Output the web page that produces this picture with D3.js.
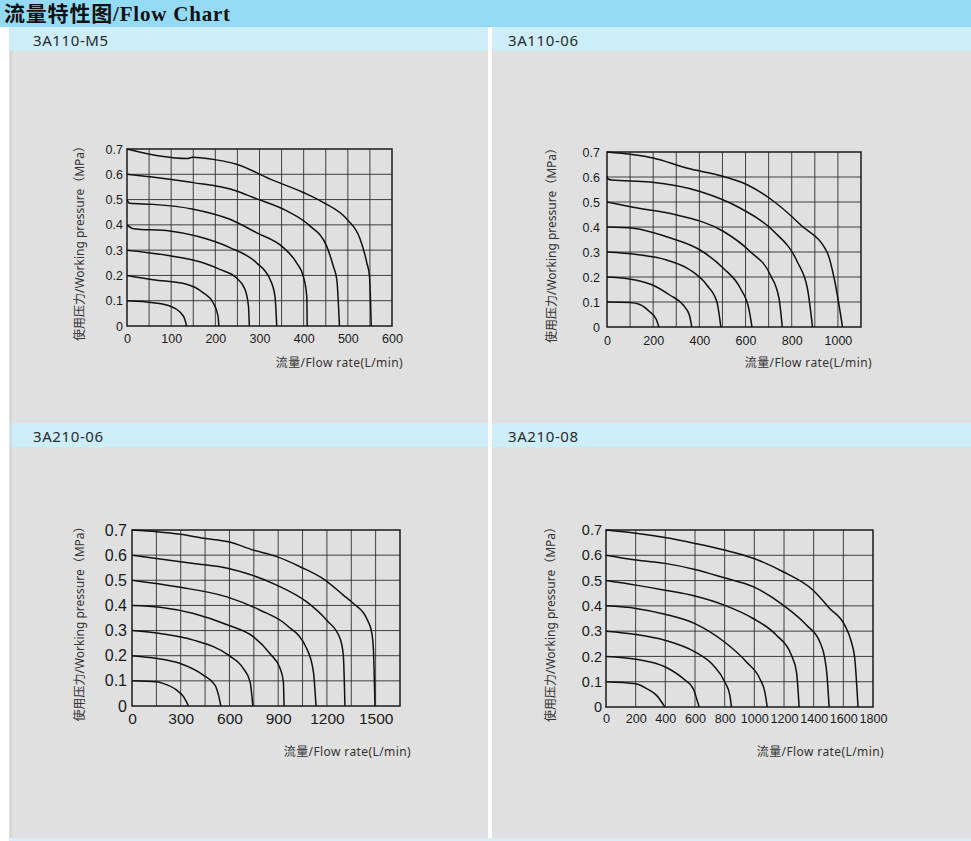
<!DOCTYPE html>
<html>
<head>
<meta charset="utf-8">
<script src="https://cdn.jsdelivr.net/npm/d3@7"></script>
<style>
  body { margin: 0; background: #fff; }
  svg { display: block; }
</style>
</head>
<body>
<svg id="chart" width="971" height="841"></svg>
<script>
// model names for the four panels
const modelNames = ["3A110-M5", "3A110-06", "3A210-06", "3A210-08"];

// pressure axis (MPa), same for all charts
const pressureTicks = [0, 0.1, 0.2, 0.3, 0.4, 0.5, 0.6, 0.7];

// flow axis per chart: max of the grid, grid step, labelled ticks
const flowMax = [600, 1100, 1650, 1800];
const flowStep = [50, 100, 150, 200];
const flowTicksM5 = [0, 100, 200, 300, 400, 500, 600];
const flowTicks06 = [0, 200, 400, 600, 800, 1000];
const flowTicks210_06 = [0, 300, 600, 900, 1200, 1500];
const flowTicks210_08 = [0, 200, 400, 600, 800, 1000, 1200, 1400, 1600, 1800];

// curves: [flow, pressure]
const curvesM5 = [
  [[0,0.1],[60,0.092],[97,0.079],[120,0.055],[131,0.026],[135,0]],
  [[0,0.2],[59,0.183],[135,0.165],[172,0.132],[195,0.092],[206,0.04],[208,0]],
  [[0,0.3],[97,0.278],[172,0.25],[210,0.224],[248,0.19],[267,0.145],[275,0.078],[277,0]],
  [[0,0.4],[14,0.385],[97,0.376],[157,0.356],[233,0.31],[293,0.25],[324,0.184],[335,0.118],[339,0]],
  [[0,0.5],[6,0.485],[59,0.481],[150,0.462],[233,0.422],[293,0.369],[354,0.31],[384,0.25],[399,0.197],[407,0.118],[408,0]],
  [[0,0.6],[97,0.58],[150,0.567],[248,0.534],[286,0.508],[362,0.455],[414,0.396],[452,0.316],[467,0.237],[475,0.184],[481,0]],
  [[0,0.7],[74,0.672],[136,0.662],[148,0.667],[202,0.657],[248,0.64],[324,0.581],[399,0.528],[445,0.488],[498,0.422],[528,0.343],[543,0.25],[549,0.197],[553,0]]
];
const curves06 = [
  [[0,0.1],[99,0.098],[142,0.09],[186,0.06],[212,0.033],[225,0]],
  [[0,0.2],[128,0.187],[200,0.167],[273,0.127],[331,0.087],[357,0.047],[367,0]],
  [[0,0.3],[128,0.29],[258,0.268],[360,0.228],[433,0.167],[476,0.1],[493,0]],
  [[0,0.4],[113,0.395],[258,0.361],[403,0.308],[505,0.234],[578,0.154],[614,0.074],[628,0]],
  [[0,0.5],[113,0.479],[302,0.448],[505,0.382],[621,0.301],[708,0.207],[745,0.114],[759,0]],
  [[0,0.603],[5,0.592],[19,0.588],[186,0.58],[403,0.542],[578,0.475],[723,0.382],[824,0.261],[868,0.154],[890,0]],
  [[0,0.7],[200,0.676],[345,0.636],[505,0.602],[607,0.569],[723,0.502],[839,0.408],[955,0.295],[984,0.194],[1020,0]]
];
const curves210_06 = [
  [[0,0.1],[148,0.096],[195,0.089],[277,0.062],[318,0.036],[348,0]],
  [[0,0.2],[154,0.189],[297,0.169],[441,0.122],[512,0.082],[533,0.042],[547,0]],
  [[0,0.3],[174,0.288],[379,0.262],[594,0.202],[686,0.149],[727,0.096],[744,0]],
  [[0,0.4],[174,0.393],[379,0.368],[594,0.321],[748,0.275],[850,0.208],[912,0.149],[932,0.096],[936,0]],
  [[0,0.5],[277,0.474],[584,0.434],[789,0.381],[953,0.321],[1076,0.228],[1117,0.135],[1133,0]],
  [[0,0.6],[379,0.567],[594,0.547],[707,0.527],[891,0.481],[1076,0.414],[1199,0.341],[1281,0.268],[1301,0.202],[1311,0]],
  [[0,0.7],[154,0.693],[297,0.683],[441,0.667],[594,0.653],[748,0.62],[891,0.594],[1035,0.554],[1189,0.501],[1301,0.441],[1363,0.408],[1445,0.348],[1475,0.295],[1486,0.228],[1496,0]]
];
const curves210_08 = [
  [[0,0.1],[202,0.092],[274,0.073],[341,0.046],[397,0]],
  [[0,0.2],[202,0.189],[397,0.159],[521,0.112],[588,0.073],[611,0.033],[628,0]],
  [[0,0.3],[202,0.287],[397,0.264],[599,0.218],[723,0.165],[801,0.099],[835,0.046],[846,0]],
  [[0,0.4],[202,0.39],[397,0.367],[599,0.33],[797,0.258],[947,0.178],[1037,0.112],[1071,0.059],[1087,0]],
  [[0,0.5],[202,0.482],[397,0.462],[599,0.439],[797,0.403],[992,0.35],[1149,0.284],[1250,0.205],[1284,0.139],[1302,0]],
  [[0,0.6],[202,0.581],[397,0.568],[599,0.544],[797,0.511],[992,0.476],[1194,0.403],[1351,0.324],[1441,0.258],[1475,0.192],[1490,0.125],[1504,0]],
  [[0,0.7],[202,0.687],[397,0.67],[599,0.647],[797,0.621],[992,0.588],[1194,0.535],[1396,0.462],[1508,0.39],[1609,0.324],[1654,0.258],[1677,0.192],[1699,0]]
];

const flowTicks = [flowTicksM5, flowTicks06, flowTicks210_06, flowTicks210_08];
const curves = [curvesM5, curves06, curves210_06, curves210_08];

// page layout: panel boxes and plot areas
const layout = [
  { px: 9,   py: 27,  tx: 33,  plot: { l: 127, r: 392, t: 149, b: 326 }, yfs: 12.5, xfs: 12.5, yGap: 4, xBase: 343, yTitleX: 80,  xTitleBase: 367 },
  { px: 492, py: 27,  tx: 508, plot: { l: 607, r: 861, t: 152, b: 327 }, yfs: 12.5, xfs: 12.5, yGap: 7, xBase: 345, yTitleX: 552, xTitleBase: 367 },
  { px: 9,   py: 423, tx: 33,  plot: { l: 132, r: 400, t: 530, b: 706 }, yfs: 16,   xfs: 15.5, yGap: 5, xBase: 724, yTitleX: 80,  xTitleBase: 756 },
  { px: 492, py: 423, tx: 508, plot: { l: 606, r: 873, t: 530, b: 707 }, yfs: 14.5, xfs: 12.6, yGap: 4, xBase: 723, yTitleX: 551, xTitleBase: 756 }
];

const svg = d3.select('#chart');
const tickFont = '"Liberation Sans", Arial, sans-serif';
const labelFont = '"Noto Sans", "Noto Sans CJK SC", sans-serif';

// grey panels and light blue name bands
layout.forEach((L, i) => {
  const bottom = i < 2 ? 423 : 838;
  svg.append('rect')
    .attr('x', L.px).attr('y', L.py)
    .attr('width', 479).attr('height', bottom - L.py)
    .attr('fill', '#e0e0e0');
  svg.append('rect')
    .attr('x', L.px).attr('y', L.py)
    .attr('width', 479).attr('height', 24)
    .attr('fill', '#cdedf9');
  svg.append('text')
    .attr('x', L.tx).attr('y', L.py + 19)
    .attr('font-family', labelFont)
    .attr('font-size', 15)
    .attr('letter-spacing', 0.6)
    .attr('fill', '#2a2a2a')
    .text(modelNames[i]);
});

// faint left edge and bottom strip
svg.append('rect').attr('x', 10).attr('y', 50).attr('width', 1.5).attr('height', 788).attr('fill', '#d2d2d2');
svg.append('rect').attr('x', 9).attr('y', 838).attr('width', 962).attr('height', 3).attr('fill', '#d6eef7');

// title bar
svg.append('rect')
  .attr('x', 0).attr('y', 0)
  .attr('width', 971).attr('height', 27)
  .attr('fill', '#93dbf4');
svg.append('text')
  .attr('x', 4).attr('y', 21)
  .attr('font-family', '"Liberation Serif", "DejaVu Serif", "Noto Sans CJK SC", serif')
  .attr('font-weight', 'bold')
  .attr('font-size', 21)
  .attr('letter-spacing', 0.8)
  .attr('fill', '#111')
  .text('流量特性图/Flow Chart');

// the four charts
layout.forEach((L, i) => {
  const P = L.plot;
  const x = d3.scaleLinear().domain([0, flowMax[i]]).range([P.l, P.r]);
  const y = d3.scaleLinear().domain([0, 0.7]).range([P.b, P.t]);
  const g = svg.append('g');

  // grid
  g.selectAll('line.vg')
    .data(d3.range(flowStep[i], flowMax[i], flowStep[i]))
    .enter().append('line')
    .attr('x1', d => x(d)).attr('x2', d => x(d))
    .attr('y1', P.t).attr('y2', P.b)
    .attr('stroke', '#2e2e2e').attr('stroke-width', 0.9);
  g.selectAll('line.hg')
    .data(pressureTicks.slice(1, -1))
    .enter().append('line')
    .attr('x1', P.l).attr('x2', P.r)
    .attr('y1', d => y(d)).attr('y2', d => y(d))
    .attr('stroke', '#2e2e2e').attr('stroke-width', 0.9);
  g.append('rect')
    .attr('x', P.l).attr('y', P.t)
    .attr('width', P.r - P.l).attr('height', P.b - P.t)
    .attr('fill', 'none').attr('stroke', '#1a1a1a').attr('stroke-width', 1.5);

  // axes (labels only)
  const yAxis = d3.axisLeft(y).tickValues(pressureTicks).tickSize(0).tickPadding(L.yGap)
    .tickFormat(d => d === 0 ? '0' : d.toFixed(1));
  const ya = g.append('g').attr('transform', `translate(${P.l},0)`).call(yAxis);
  ya.select('.domain').remove();
  ya.selectAll('text').attr('font-family', tickFont).attr('font-size', L.yfs).attr('fill', '#1a1a1a');

  const xAxis = d3.axisBottom(x).tickValues(flowTicks[i]).tickSize(0).tickPadding(0)
    .tickFormat(d3.format('d'));
  const xa = g.append('g').attr('transform', `translate(0,${L.xBase})`).call(xAxis);
  xa.select('.domain').remove();
  xa.selectAll('text').attr('dy', 0).attr('y', 0)
    .attr('font-family', tickFont).attr('font-size', L.xfs).attr('fill', '#1a1a1a');

  // curves
  const line = d3.line()
    .x(d => x(d[0])).y(d => y(d[1]))
    .curve(d3.curveMonotoneX);
  g.selectAll('path.curve')
    .data(curves[i])
    .enter().append('path')
    .attr('class', 'curve')
    .attr('d', line)
    .attr('fill', 'none')
    .attr('stroke', '#111')
    .attr('stroke-width', 1.5);

  // axis titles
  g.append('text')
    .attr('transform', `translate(${L.yTitleX + 4},${(P.t + P.b) / 2 + 3}) rotate(-90)`)
    .attr('text-anchor', 'middle')
    .attr('font-family', labelFont)
    .attr('font-size', 12)
    .attr('fill', '#333')
    .text('使用压力/Working pressure（MPa）');
  g.append('text')
    .attr('x', P.r + 11).attr('y', L.xTitleBase)
    .attr('text-anchor', 'end')
    .attr('font-family', labelFont)
    .attr('font-size', 12)
    .attr('letter-spacing', 0.4)
    .attr('fill', '#333')
    .text('流量/Flow rate(L/min)');
});
</script>
</body>
</html>
